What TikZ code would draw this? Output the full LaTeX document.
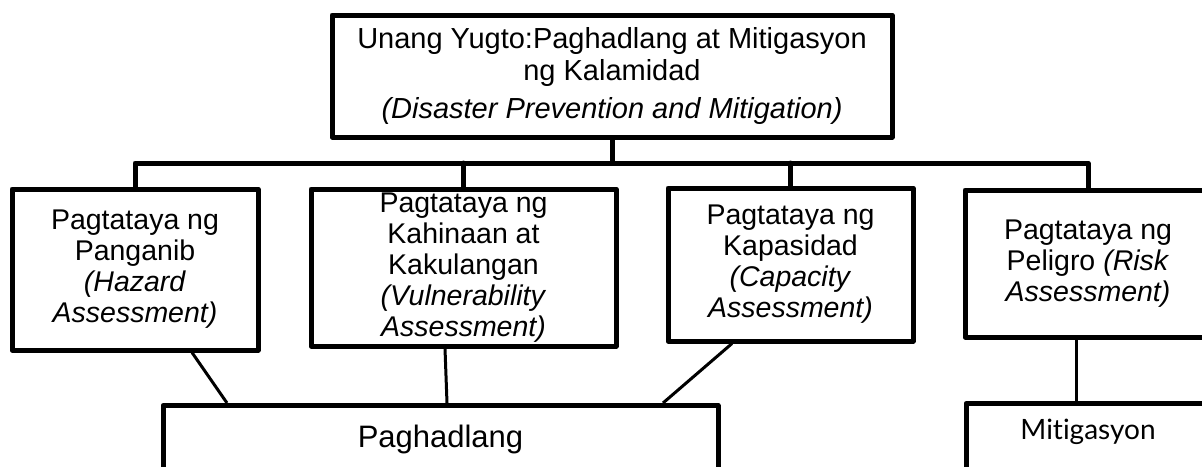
\documentclass[tikz,border=0pt]{standalone}
\usepackage{fontspec}
\setmainfont{Liberation Sans}
\newfontfamily\latofont[Ligatures=NoCommon]{Lato}
\usetikzlibrary{calc}
\tikzset{
  box/.style={draw=black, line width=5pt, line join=round, rectangle, inner sep=0pt,
    align=center, font=\fontsize{28.5}{31}\selectfont},
  bus/.style={draw=black, line width=5pt, line join=round, line cap=round},
  link/.style={draw=black, line width=3pt}
}
\begin{document}
\begin{tikzpicture}[x=1pt,y=-1pt]
\useasboundingbox (0,0) rectangle (1202,466);
\clip (0,0) rectangle (1202,466);
\fill[white] (0,0) rectangle (1202,466);

\node[box, minimum width=560pt, minimum height=122pt, font=\fontsize{29}{32}\selectfont] (top) at (612,76)
  {Unang Yugto:Paghadlang at Mitigasyon\\ng Kalamidad\\[6pt]\textit{(Disaster Prevention and Mitigation)}};

\node[box, minimum width=246pt, minimum height=161pt] (haz) at (135,269.5)
  {Pagtataya ng\\Panganib\\\textit{(Hazard}\\\textit{Assessment)}};
\node[box, minimum width=305pt, minimum height=157pt] (vul) at (463.5,267.5)
  {Pagtataya ng\\Kahinaan at\\Kakulangan\\\textit{(Vulnerability}\\\textit{Assessment)}};
\node[box, minimum width=245pt, minimum height=153pt] (cap) at (790.5,264.5)
  {Pagtataya ng\\Kapasidad\\\textit{(Capacity}\\\textit{Assessment)}};
\node[box, minimum width=246pt, minimum height=147pt] (risk) at (1088,263.5)
  {Pagtataya ng\\Peligro \textit{(Risk}\\\textit{Assessment)}};

\node[box, anchor=north, minimum width=555pt, text height=42pt, text depth=60pt,
  font=\fontsize{31}{34}\selectfont] (pag) at (440.5,403) {Paghadlang};
\node[box, anchor=north, minimum width=244pt, text height=36pt, text depth=60pt,
  font=\latofont\fontsize{28}{31}\selectfont] (mit) at (1088,401) {Mitigasyon};

\coordinate (busmid) at (612,163);
\draw[bus] (top.south) -- (busmid);
\draw[bus] (haz.north) |- (busmid) -| (risk.north);
\draw[bus] (vul.north) -- (vul.north |- busmid);
\draw[bus] (cap.north) -- (cap.north |- busmid);

\draw[link] ([xshift=57pt]haz.south) -- ([xshift=-213.5pt]pag.north);
\draw[link] ([xshift=-18.5pt]vul.south) -- ([xshift=6.5pt]pag.north);
\draw[link] ([xshift=-58.5pt]cap.south) -- ([xshift=222.5pt]pag.north);
\draw[link] ([xshift=-12pt]risk.south) -- ([xshift=-12pt]mit.north);
\end{tikzpicture}
\end{document}
